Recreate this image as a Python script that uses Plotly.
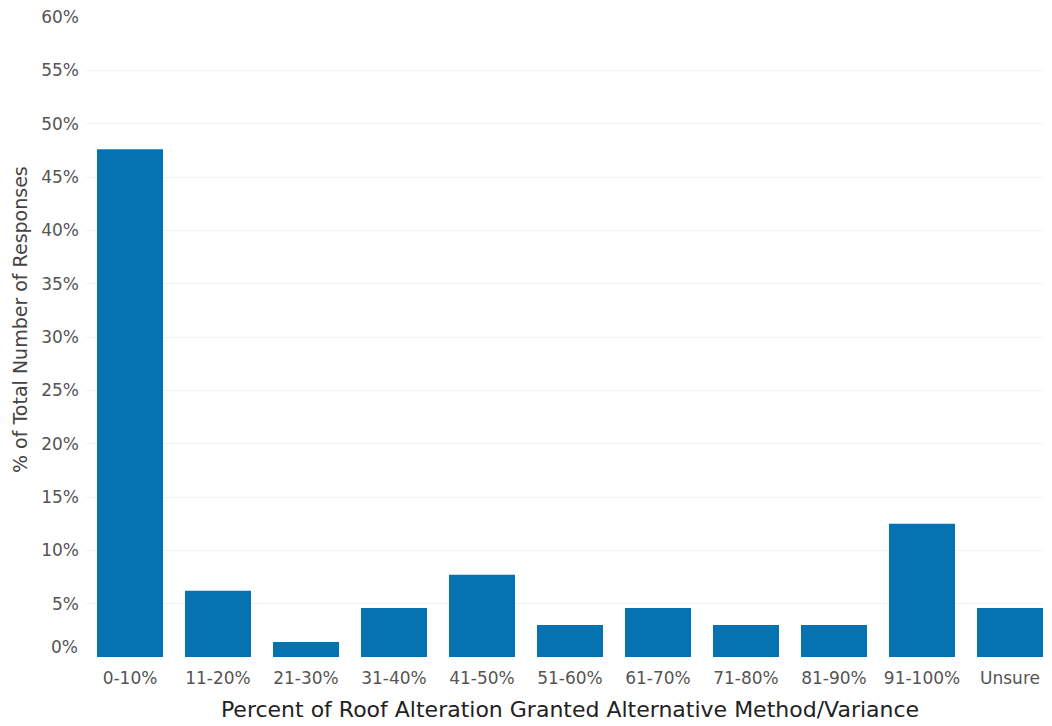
import plotly.graph_objects as go

categories = ["0-10%", "11-20%", "21-30%", "31-40%", "41-50%", "51-60%",
              "61-70%", "71-80%", "81-90%", "91-100%", "Unsure"]
values = [47.6, 6.2, 1.4, 4.6, 7.7, 3.0, 4.6, 3.0, 3.0, 12.5, 4.6]
tick_vals = [5, 10, 15, 20, 25, 30, 35, 40, 45, 50, 55, 60]
tick_text = [f"{v}%" for v in tick_vals]

FONT = "'DejaVu Sans', sans-serif"
TICK = 17

fig = go.Figure(go.Bar(x=categories, y=values, marker=dict(color="#0573B2", line=dict(width=0))))

fig.update_layout(
    width=1046, height=718,
    margin=dict(l=78, r=0, t=9, b=69),
    paper_bgcolor="white", plot_bgcolor="white",
    bargap=0.25,
    showlegend=False,
    font=dict(family=FONT, color="#555555", size=TICK),
    xaxis=dict(
        automargin=False,
        title=dict(text="Percent of Roof Alteration Granted Alternative Method/Variance",
                   font=dict(size=22, color="#222222", family=FONT), standoff=14),
        tickfont=dict(size=TICK, color="#555555"),
        showgrid=False, showline=False, ticks="", ticklabelstandoff=9,
    ),
    yaxis=dict(
        automargin=False,
        range=[0, 60],
        tickvals=tick_vals, ticktext=tick_text,
        tickfont=dict(size=TICK, color="#555555"),
        ticklabeloverflow="allow",
        showgrid=True, gridcolor="#f3f3f3", gridwidth=1,
        zeroline=False, showline=False, ticks="", ticklabelstandoff=6,
    ),
)

fig.add_annotation(x=0, xref="paper", xanchor="right", xshift=-6,
                   y=0, yref="y", yanchor="middle", yshift=10,
                   text="0%", showarrow=False,
                   font=dict(size=TICK, color="#555555", family=FONT))

fig.add_annotation(x=0, xref="paper", xanchor="center", xshift=-66,
                   y=0.5266, yref="paper", yanchor="middle",
                   text="% of Total Number of Responses", textangle=-90,
                   showarrow=False,
                   font=dict(size=19, color="#444444", family=FONT))

fig.write_html("out.html")
